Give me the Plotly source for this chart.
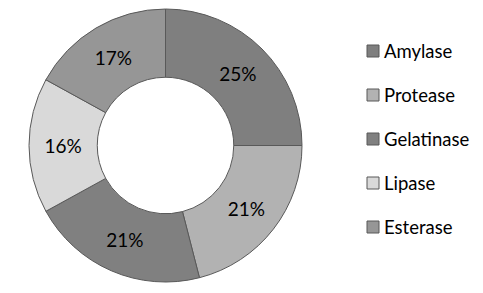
import plotly.graph_objects as go

labels = ["Amylase", "Protease", "Gelatinase", "Lipase", "Esterase"]
values = [25, 21, 21, 16, 17]
colors = ["#7f7f7f", "#b2b2b2", "#808080", "#d9d9d9", "#969696"]

W, H = 483, 293
FONT = "Lato, Open Sans, sans-serif"

fig = go.Figure()
fig.add_trace(go.Pie(
    labels=labels, values=values, hole=0.5, sort=False, direction="clockwise",
    rotation=0,
    marker=dict(colors=colors, line=dict(color="#595959", width=1)),
    texttemplate="%{percent:.0%}", textposition="inside",
    insidetextorientation="horizontal",
    textfont=dict(family=FONT, size=19, color="#000000"),
    domain=dict(x=[29 / W, 302 / W], y=[1 - 282 / H, 1 - 9 / H]),
    showlegend=False, hoverinfo="label+percent",
))

# manual legend
x0, sq, gap = 367, 12, 44
y_first = 51
shapes, annotations = [], []
for i, (lab, col) in enumerate(zip(labels, colors)):
    yc = y_first + i * gap
    shapes.append(dict(type="rect", xref="paper", yref="paper",
                       x0=x0 / W, x1=(x0 + sq) / W,
                       y0=1 - (yc + sq / 2) / H, y1=1 - (yc - sq / 2) / H,
                       fillcolor=col, line=dict(color="#595959", width=1)))
    annotations.append(dict(xref="paper", yref="paper", x=(x0 + sq + 3) / W,
                            y=1 - yc / H, text=lab, showarrow=False,
                            xanchor="left", yanchor="middle",
                            font=dict(family=FONT, size=18.5, color="#000000")))

fig.update_layout(
    width=W, height=H, margin=dict(l=0, r=0, t=0, b=0),
    paper_bgcolor="white", plot_bgcolor="white",
    shapes=shapes, annotations=annotations,
)
fig.write_html("out.html")
